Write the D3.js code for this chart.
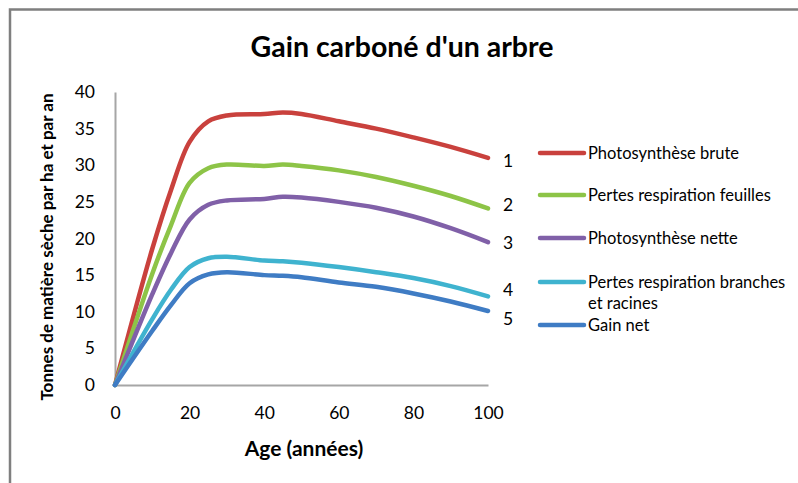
<!DOCTYPE html>
<html>
<head>
<meta charset="utf-8">
<script src="https://cdn.jsdelivr.net/npm/d3@7"></script>
<style>
    body { margin: 0; background: #fff; }
    text { font-family: Lato, "Open Sans", sans-serif; fill: #000; }
    .tickLabel { font-size: 17.5px; }
    .axisTitle { font-size: 21px; font-weight: bold; }
    .legendText { font-size: 16.5px; }
</style>
</head>
<body>
<div id="chart"></div>
<script>
// ages (années)
var ages = [0, 10, 15, 20, 25, 30, 40, 45, 50, 60, 70, 80, 90, 100];

// tonnes de matière sèche par ha et par an
var photoBrute = [0, 18.6, 26.6, 33.2, 36.0, 36.8, 37.0, 37.2, 37.0, 36.0, 35.0, 33.8, 32.5, 31.0];
var pertesFeuilles = [0, 15.2, 21.8, 27.6, 29.6, 30.1, 29.9, 30.1, 29.9, 29.3, 28.4, 27.2, 25.8, 24.1];
var photoNette = [0, 12.4, 18.0, 22.6, 24.6, 25.2, 25.4, 25.7, 25.6, 25.0, 24.2, 23.0, 21.4, 19.5];
var pertesBranches = [0, 9.0, 13.0, 16.1, 17.3, 17.5, 17.0, 16.9, 16.7, 16.1, 15.4, 14.6, 13.5, 12.1];
var gainNet = [0, 7.4, 10.9, 13.9, 15.1, 15.4, 15.0, 14.9, 14.7, 14.0, 13.4, 12.5, 11.4, 10.1];

var seriesNames = ["Photosynthèse brute", "Pertes respiration feuilles", "Photosynthèse nette",
    "Pertes respiration branches et racines", "Gain net"];
var seriesValues = [photoBrute, pertesFeuilles, photoNette, pertesBranches, gainNet];
var seriesColors = ["#c9413d", "#8dc447", "#8060a8", "#3fb3cf", "#3f7cc4"];
var endLabels = ["1", "2", "3", "4", "5"];

var xTicks = [0, 20, 40, 60, 80, 100];
var yTicks = [0, 5, 10, 15, 20, 25, 30, 35, 40];

var width = 798, height = 483;
var margin = { top: 92, right: 310, bottom: 98, left: 115 };

var svg = d3.select("#chart").append("svg")
    .attr("width", width)
    .attr("height", height);

// outer frame (only top and left edges are visible in the crop)
svg.append("path")
    .attr("d", "M10," + height + "V9.5H" + width)
    .attr("fill", "none")
    .attr("stroke", "#7f7f7f")
    .attr("stroke-width", 2.5);

var xScale = d3.scaleLinear()
    .domain([0, 100])
    .range([margin.left, width - margin.right]);

var yScale = d3.scaleLinear()
    .domain([0, 40])
    .range([height - margin.bottom, margin.top]);

//axis lines without ticks, Excel style
var xAxis = svg.append("g")
    .attr("transform", "translate(0," + yScale(0) + ")")
    .call(d3.axisBottom(xScale).tickValues(xTicks).tickSize(0).tickPadding(22));
var yAxis = svg.append("g")
    .attr("transform", "translate(" + xScale(0) + ",0)")
    .call(d3.axisLeft(yScale).tickValues(yTicks).tickSize(0).tickPadding(20));

[xAxis, yAxis].forEach(function (ax) {
    ax.select(".domain").attr("stroke", "#a6a6a6").attr("stroke-width", 2);
    ax.selectAll("text")
        .attr("class", "tickLabel")
        .attr("font-family", null)
        .attr("font-size", null)
        .attr("fill", "#000");
});

var line = d3.line()
    .x(function (d, i) { return xScale(ages[i]); })
    .y(function (d) { return yScale(d); })
    .curve(d3.curveCatmullRom.alpha(0.5));

svg.selectAll(".serie")
    .data(seriesValues)
    .enter()
    .append("path")
    .attr("class", "serie")
    .attr("d", line)
    .attr("fill", "none")
    .attr("stroke", function (d, i) { return seriesColors[i]; })
    .attr("stroke-width", 4.5)
    .attr("stroke-linecap", "round")
    .attr("stroke-linejoin", "round");

// numbers at the end of each curve
var endY = [161, 205, 243, 290, 319];
svg.selectAll(".endLabel")
    .data(endLabels)
    .enter()
    .append("text")
    .attr("class", "tickLabel")
    .attr("x", 508)
    .attr("y", function (d, i) { return endY[i]; })
    .attr("text-anchor", "middle")
    .attr("dy", "0.35em")
    .text(function (d) { return d; });

// title
svg.append("text")
    .attr("x", 402)
    .attr("y", 47)
    .attr("text-anchor", "middle")
    .attr("dy", "0.35em")
    .style("font-size", "28.5px")
    .style("font-weight", "bold")
    .text("Gain carboné d'un arbre");

svg.append("text")
    .attr("class", "axisTitle")
    .attr("x", 304)
    .attr("y", 449)
    .attr("text-anchor", "middle")
    .attr("dy", "0.35em")
    .text("Age (années)");

svg.append("text")
    .attr("transform", "translate(47,247) rotate(-90)")
    .attr("text-anchor", "middle")
    .attr("dy", "0.35em")
    .style("font-size", "17px")
    .style("font-weight", "bold")
    .text("Tonnes de matière sèche par ha et par an");

// legend
var legendY = [153, 195, 238, 282, 325];
var legend = svg.selectAll(".legendItem")
    .data(seriesNames)
    .enter()
    .append("g")
    .attr("class", "legendItem")
    .attr("transform", function (d, i) { return "translate(540," + legendY[i] + ")"; });

legend.append("line")
    .attr("x1", 0)
    .attr("x2", 44)
    .attr("stroke", function (d, i) { return seriesColors[i]; })
    .attr("stroke-width", 4.5)
    .attr("stroke-linecap", "round");

legend.append("text")
    .attr("class", "legendText")
    .attr("x", 48)
    .attr("dy", "0.35em")
    .each(function (d) {
        var el = d3.select(this);
        // the long label wraps onto two lines
        if (d.length > 30) {
            el.append("tspan").attr("x", 48).text("Pertes respiration branches");
            el.append("tspan").attr("x", 48).attr("dy", "1.3em").text("et racines");
        } else {
            el.text(d);
        }
    });
</script>
</body>
</html>
